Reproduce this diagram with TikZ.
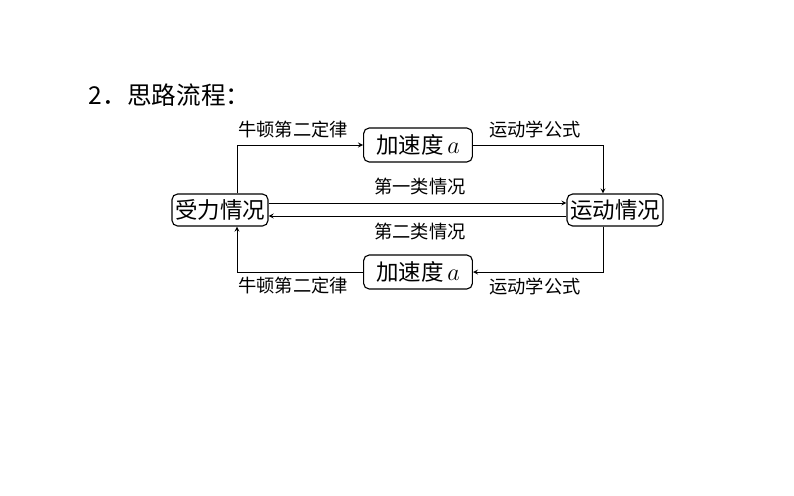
\documentclass[tikz,border=0pt]{standalone}
\usepackage{fontspec}
\newfontfamily\cjk{Noto Sans CJK SC}
\usetikzlibrary{positioning}

\begin{document}
\begin{tikzpicture}[
    x=0.025cm, y=-0.025cm,
    box/.style={draw, thick, rounded corners=4pt, inner sep=1pt, minimum height=0.8cm,
        font=\cjk\fontsize{16}{18}\selectfont},
    lab/.style={font=\cjk\fontsize{13}{15}\selectfont},
    >=stealth
]
    \useasboundingbox (0,0) rectangle (794,495);

    \node[font=\cjk\fontsize{17.5}{20}\selectfont, anchor=west] (title) at (84,95) {2．思路流程：};

    \node[box, minimum width=2.4cm] (force) at (220,210) {受力情况};
    \node[box, minimum width=2.4cm] (motion) at (615,210) {运动情况};
    \node[box, minimum width=2.72cm, minimum height=0.85cm] (acctop) at (418,145) {加速度\,$a$};
    \node[box, minimum width=2.72cm, minimum height=0.85cm] (accbot) at (418,272) {加速度\,$a$};

    \draw[->, semithick] ([xshift=0.425cm]force.north) |- (acctop.west);
    \draw[->, semithick] (acctop.east) -| ([xshift=-0.3cm]motion.north);
    \draw[->, semithick] ([yshift=0.175cm]force.east) -- ([yshift=0.175cm]motion.west);
    \draw[->, semithick] ([yshift=-0.15cm]motion.west) -- ([yshift=-0.15cm]force.east);
    \draw[->, semithick] ([xshift=-0.3cm]motion.south) |- (accbot.east);
    \draw[->, semithick] (accbot.west) -| ([xshift=0.425cm]force.south);

    \node[lab] (newtontop) at (293,130) {牛顿第二定律};
    \node[lab] (kintop) at (535,130) {运动学公式};
    \node[lab] (first) at (420,187) {第一类情况};
    \node[lab] (second) at (420,232) {第二类情况};
    \node[lab] (newtonbot) at (293,286) {牛顿第二定律};
    \node[lab] (kinbot) at (535,286) {运动学公式};
\end{tikzpicture}
\end{document}
